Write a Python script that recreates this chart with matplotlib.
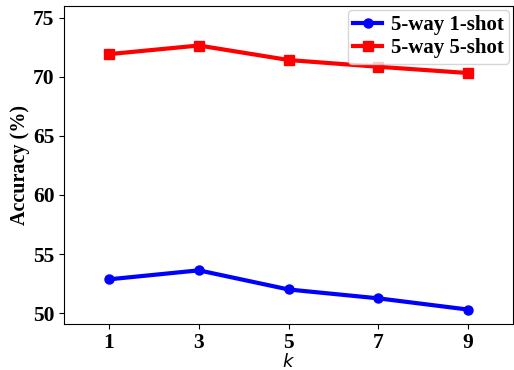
import matplotlib.pyplot as plt

# values
k_values = [1, 3, 5, 7, 9]
acc_1shot = [52.86, 53.62, 52.0, 51.25, 50.3]
acc_5shot = [71.92, 72.65, 71.42, 70.85, 70.32]

plt.rcParams['font.family'] = 'Liberation Serif'

fig = plt.figure(figsize=(5.14, 3.70), dpi=100)
ax = fig.add_axes([0.125, 0.125, 0.873, 0.859])

ax.plot(k_values, acc_1shot, color='blue', marker='o', linewidth=3, markersize=6.5, label='5-way 1-shot')
ax.plot(k_values, acc_5shot, color='red', marker='s', linewidth=3, markersize=6.5, label='5-way 5-shot')

ax.set_xlim(0, 10)
ax.set_ylim(49.1, 76)
ax.set_xticks(k_values)
ax.set_yticks([50, 55, 60, 65, 70, 75])
ax.tick_params(labelsize=15.5)
for lab in ax.get_xticklabels() + ax.get_yticklabels():
    lab.set_fontweight('bold')

ax.set_xlabel('$k$', fontsize=13, fontweight='normal', labelpad=0)
ax.set_ylabel('Accuracy (%)', fontsize=14.5, fontweight='bold', labelpad=2)

leg = ax.legend(loc='upper right', fontsize=15, borderaxespad=0.2,
                handlelength=1.4, handletextpad=0.4, labelspacing=0.15, borderpad=0.25)
for t in leg.get_texts():
    t.set_fontweight('bold')

fig.savefig('out.png', dpi=100)
